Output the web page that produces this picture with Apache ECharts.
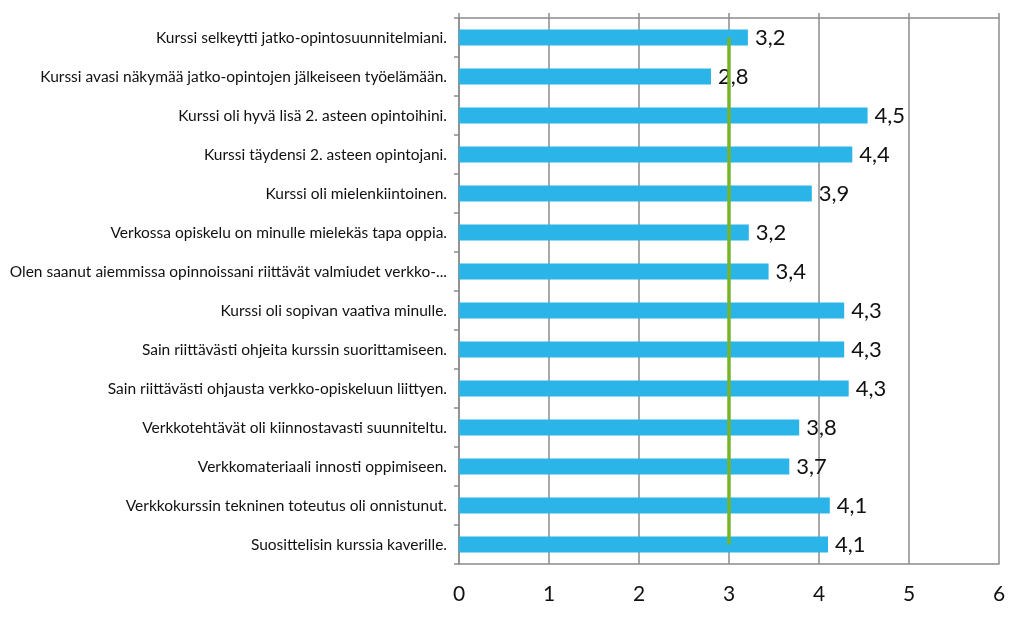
<!DOCTYPE html>
<html>
<head>
<meta charset="utf-8">
<script src="https://cdn.jsdelivr.net/npm/echarts@6/dist/echarts.min.js"></script>
<style>html,body{margin:0;padding:0;background:#fff;}#c{width:1024px;height:619px;}</style>
</head>
<body>
<div id="c"></div>
<script>
const categories = [
  'Kurssi selkeytti jatko-opintosuunnitelmiani.',
  'Kurssi avasi näkymää jatko-opintojen jälkeiseen työelämään.',
  'Kurssi oli hyvä lisä 2. asteen opintoihini.',
  'Kurssi täydensi 2. asteen opintojani.',
  'Kurssi oli mielenkiintoinen.',
  'Verkossa opiskelu on minulle mielekäs tapa oppia.',
  'Olen saanut aiemmissa opinnoissani riittävät valmiudet verkko-...',
  'Kurssi oli sopivan vaativa minulle.',
  'Sain riittävästi ohjeita kurssin suorittamiseen.',
  'Sain riittävästi ohjausta verkko-opiskeluun liittyen.',
  'Verkkotehtävät oli kiinnostavasti suunniteltu.',
  'Verkkomateriaali innosti oppimiseen.',
  'Verkkokurssin tekninen toteutus oli onnistunut.',
  'Suosittelisin kurssia kaverille.'
];
const values = [3.21, 2.80, 4.54, 4.37, 3.92, 3.22, 3.44, 4.28, 4.28, 4.33, 3.78, 3.67, 4.12, 4.10];
const referenceValue = 3;
const xTicks = [0, 1, 2, 3, 4, 5, 6];

const gray = '#8c8c8c';
const chart = echarts.init(document.getElementById('c'));
chart.setOption({
  animation: false,
  grid: { left: 459, right: 25, top: 18, bottom: 55, containLabel: false },
  xAxis: [{
    type: 'value', min: xTicks[0], max: xTicks[xTicks.length - 1], interval: 1, position: 'bottom',
    axisLine: { show: true, lineStyle: { color: gray, width: 1.5 } },
    axisTick: { show: false },
    splitLine: { show: true, lineStyle: { color: gray, width: 1.5 } },
    axisLabel: { color: '#111', fontFamily: 'Lato', fontSize: 21, margin: 20 }
  }, {
    type: 'value', min: xTicks[0], max: xTicks[xTicks.length - 1], interval: 1, position: 'top',
    axisLine: { show: true, lineStyle: { color: gray, width: 1.5 } },
    axisTick: { show: true, inside: false, length: 5, lineStyle: { color: gray, width: 1.5 } },
    splitLine: { show: false },
    axisLabel: { show: false }
  }],
  yAxis: {
    type: 'category', data: categories, inverse: true,
    axisLine: { show: true, lineStyle: { color: gray, width: 1.5 } },
    axisTick: { show: true, length: 5, lineStyle: { color: gray, width: 1.5 } },
    axisLabel: { color: '#111', fontFamily: 'Lato', fontSize: 15.5, margin: 12 }
  },
  series: [{
    type: 'bar', data: values, barWidth: 16,
    itemStyle: { color: '#2BB4E8' },
    label: {
      show: true, position: 'right', distance: 7,
      color: '#111', fontFamily: 'Lato', fontSize: 22,
      formatter: p => p.value.toFixed(1).replace('.', ',')
    },
    markLine: {
      silent: true, symbol: 'none',
      lineStyle: { color: '#78B42A', width: 3.5, type: 'solid' },
      label: { show: false },
      data: [[
        { coord: [referenceValue, categories[0]] },
        { coord: [referenceValue, categories[categories.length - 1]] }
      ]]
    }
  }]
});
</script>
</body>
</html>
